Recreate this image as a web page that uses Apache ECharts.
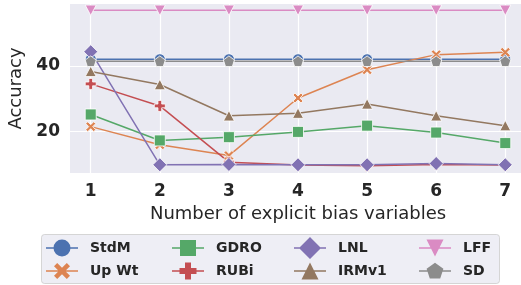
<!DOCTYPE html>
<html><head><meta charset="utf-8">
<script src="https://cdn.jsdelivr.net/npm/echarts@6/dist/echarts.min.js"></script>
<style>html,body{margin:0;padding:0;background:#fff}#c{width:521px;height:285px}</style>
</head><body><div id="c"></div>
<script>
const xValues = [1, 2, 3, 4, 5, 6, 7];
const xTicks = [1, 2, 3, 4, 5, 6, 7];
const yTicks = [20, 40];
const StdM  = [42.0, 42.0, 42.0, 42.0, 42.0, 42.0, 42.0];
const UpWt  = [21.5, 16.0, 12.7, 30.2, 38.8, 43.4, 44.1];
const GDRO  = [25.2, 17.3, 18.3, 19.9, 21.8, 19.7, 16.5];
const RUBi  = [34.5, 27.8, 10.7, 9.8, 9.6, 10.0, 9.8];
const LNL   = [44.3, 9.9, 10.0, 9.9, 9.9, 10.3, 9.9];
const IRMv1 = [38.3, 34.3, 24.8, 25.6, 28.4, 24.8, 21.8];
const LFF   = [56.9, 56.9, 56.9, 56.9, 56.9, 56.9, 56.9];
const SD    = [41.4, 41.4, 41.4, 41.4, 41.4, 41.4, 41.4];

// plot markers
const P_X = 'path://M0,2 L2,0 L5,3 L8,0 L10,2 L7,5 L10,8 L8,10 L5,7 L2,10 L0,8 L3,5 Z';
const P_PLUS = 'path://M3.3,0 H6.7 V3.3 H10 V6.7 H6.7 V10 H3.3 V6.7 H0 V3.3 H3.3 Z';
const P_PENT = 'path://M5,0 L10,3.7 L8.1,9.6 L1.9,9.6 L0,3.7 Z';
const P_TDOWN = 'path://M0,0 L10,0 L5,9.4 Z';
const P_TUP = 'path://M5,0 L10,9.4 L0,9.4 Z';

// legend icons (line + marker), 32x22 box
const ANCH = 'M0,0 L0.01,0 L0,0.01 Z M32,22 L31.99,22 L32,21.99 Z ';
const LINE = 'M0,10.25 H32 V11.75 H0 Z ';
const L_CIRC = 'path://' + ANCH + LINE + 'M7.5,11 A8.5,8.5 0 1 1 24.5,11 A8.5,8.5 0 1 1 7.5,11 Z';
const L_X = 'path://' + ANCH + LINE + 'M8,6.2 L11.2,3 L16,7.8 L20.8,3 L24,6.2 L19.2,11 L24,15.8 L20.8,19 L16,14.2 L11.2,19 L8,15.8 L12.8,11 Z';
const L_SQ = 'path://' + ANCH + LINE + 'M8,3 H24 V19 H8 Z';
const L_PLUS = 'path://' + ANCH + LINE + 'M13,2.5 H19 V8 H24.5 V14 H19 V19.5 H13 V14 H7.5 V8 H13 Z';
const L_DIAM = 'path://' + ANCH + LINE + 'M16,0 L27,11 L16,22 L5,11 Z';
const L_TUP = 'path://' + ANCH + LINE + 'M16,2.5 L24.5,19.5 L7.5,19.5 Z';
const L_TDOWN = 'path://' + ANCH + LINE + 'M7.5,2.5 H24.5 L16,19.5 Z';
const L_PENT = 'path://' + ANCH + LINE + 'M16,2.7 L24.4,8.8 L21.2,18.6 L10.8,18.6 L7.6,8.8 Z';

const defs = [
  ['StdM', StdM, '#4C72B0', 'circle', 11, L_CIRC],
  ['Up Wt', UpWt, '#DD8452', P_X, 10, L_X],
  ['GDRO', GDRO, '#55A868', 'rect', 11, L_SQ],
  ['RUBi', RUBi, '#C44E52', P_PLUS, 11, L_PLUS],
  ['LNL', LNL, '#8172B3', 'diamond', 14, L_DIAM],
  ['IRMv1', IRMv1, '#937860', P_TUP, 11, L_TUP],
  ['LFF', LFF, '#DA8BC3', P_TDOWN, 11, L_TDOWN],
  ['SD', SD, '#8C8C8C', P_PENT, 11, L_PENT]
];
const iconOf = {};
defs.forEach(d => { iconOf[d[0]] = d[5]; });

const series = defs.map(d => ({
  name: d[0], type: 'line',
  data: xValues.map((x, i) => [x, d[1][i]]),
  symbol: d[3], symbolSize: d[4], symbolKeepAspect: true,
  showAllSymbol: true,
  lineStyle: { color: d[2], width: 1.5 },
  itemStyle: { color: d[2], borderColor: '#ffffff', borderWidth: 0.8, opacity: 1 },
  emphasis: { disabled: true },
  animation: false
}));

const cols = [['StdM', 'Up Wt'], ['GDRO', 'RUBi'], ['LNL', 'IRMv1'], ['LFF', 'SD']];
const colLeft = [46, 172, 294, 419];
const legends = cols.map((c, i) => ({
  data: c.map(n => ({ name: n, icon: iconOf[n] })),
  orient: 'vertical', left: colLeft[i], top: 237,
  itemWidth: 32, itemHeight: 22, itemGap: 1, padding: 0,
  itemStyle: { borderWidth: 0 },
  textStyle: { fontFamily: 'DejaVu Sans', fontWeight: 'bold', fontSize: 14, color: '#262626', padding: [0, 0, 0, 7] },
  selectedMode: false
}));

const chart = echarts.init(document.getElementById('c'), null, { renderer: 'canvas' });
chart.setOption({
  animation: false,
  backgroundColor: '#ffffff',
  graphic: [{
    type: 'rect', left: 41, top: 234, z: -1,
    shape: { width: 458, height: 49, r: 3 },
    style: { fill: '#EAEAF2', stroke: '#cccccc', lineWidth: 1, opacity: 0.8 }
  }],
  legend: legends,
  grid: { left: 70, width: 456, top: 4, height: 169, outerBoundsMode: 'none', containLabel: false, show: true, backgroundColor: '#EAEAF2', borderWidth: 0 },
  xAxis: {
    type: 'value', min: 0.7, max: 7.3,
    name: 'Number of explicit bias variables', nameLocation: 'middle', nameGap: 32,
    nameTextStyle: { fontFamily: 'DejaVu Sans', fontSize: 18, color: '#262626' },
    axisLine: { show: false },
    axisTick: { show: false, customValues: xTicks },
    axisLabel: { customValues: xTicks, fontFamily: 'DejaVu Sans', fontWeight: 'bold', fontSize: 17, color: '#262626', margin: 10 },
    splitLine: { show: true, lineStyle: { color: '#ffffff', width: 1.2 } }
  },
  yAxis: {
    type: 'value', min: 7.4, max: 58.8,
    name: 'Accuracy', nameLocation: 'middle', nameGap: 42, nameRotate: 90,
    nameTextStyle: { fontFamily: 'DejaVu Sans', fontSize: 18, color: '#262626' },
    axisLine: { show: false },
    axisTick: { show: false, customValues: yTicks },
    axisLabel: { customValues: yTicks, fontFamily: 'DejaVu Sans', fontWeight: 'bold', fontSize: 17, color: '#262626', margin: 10, padding: [4, 0, 0, 0] },
    splitLine: { show: true, lineStyle: { color: '#ffffff', width: 1.2 } }
  },
  series: series
});
</script>
</body></html>
